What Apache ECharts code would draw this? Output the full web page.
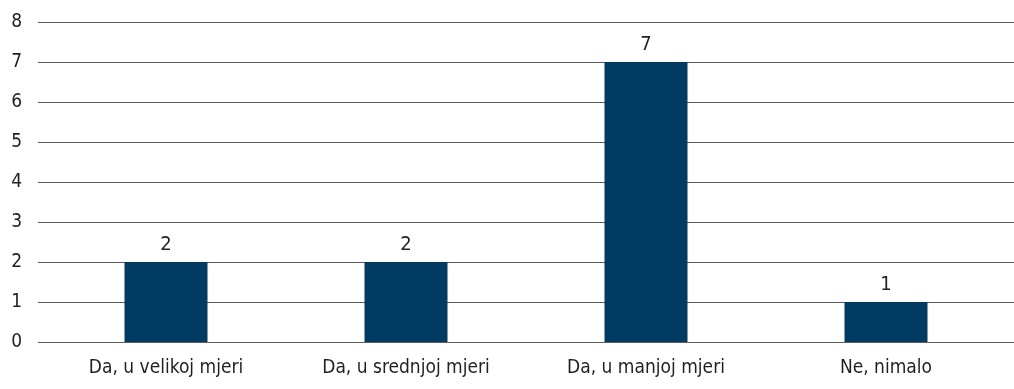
<!DOCTYPE html>
<html>
<head>
<meta charset="utf-8">
<script src="https://cdn.jsdelivr.net/npm/echarts@6/dist/echarts.min.js"></script>
<style>
  html, body { margin: 0; padding: 0; background: #fff; }
  #chart { width: 1014px; height: 389px; }
</style>
</head>
<body>
<div id="chart"></div>
<script>
// Survey answers and how many respondents chose each one
const categories = ['Da, u velikoj mjeri', 'Da, u srednjoj mjeri', 'Da, u manjoj mjeri', 'Ne, nimalo'];
const counts = [2, 2, 7, 1];
const yTicks = [0, 1, 2, 3, 4, 5, 6, 7, 8];

const FONT = '"Liberation Sans Narrow", "DejaVu Sans Condensed", sans-serif';
const TEXT = '#231f20';
const yMin = yTicks[0];
const yMax = yTicks[yTicks.length - 1];

const chart = echarts.init(document.getElementById('chart'), null, { renderer: 'canvas' });
chart.setOption({
  animation: false,
  backgroundColor: '#ffffff',
  // grid 0 carries the full-width gridlines and value labels,
  // grid 1 (same height, slightly inset) carries the bars and category labels
  grid: [
    { left: 38, right: 0, top: 22, bottom: 47, containLabel: false },
    { left: 46, right: 8, top: 22, bottom: 47, containLabel: false }
  ],
  xAxis: [
    { gridIndex: 0, type: 'category', data: categories, show: false },
    {
      gridIndex: 1,
      type: 'category',
      data: categories,
      axisLine: { show: false },
      axisTick: { show: false },
      axisLabel: { color: TEXT, fontFamily: FONT, fontSize: 19, margin: 17 }
    }
  ],
  yAxis: [
    {
      gridIndex: 0,
      type: 'value',
      min: yMin,
      max: yMax,
      interval: 1,
      axisLine: { show: false },
      axisTick: { show: false },
      axisLabel: { color: TEXT, fontFamily: FONT, fontSize: 19, margin: 16 },
      splitLine: { show: true, lineStyle: { color: '#5a5a5a', width: 1 } }
    },
    {
      gridIndex: 1,
      type: 'value',
      min: yMin,
      max: yMax,
      interval: 1,
      show: false,
      splitLine: { show: false }
    }
  ],
  series: [{
    type: 'bar',
    xAxisIndex: 1,
    yAxisIndex: 1,
    data: counts,
    barWidth: 83,
    itemStyle: { color: '#003b64' },
    label: {
      show: true,
      position: 'top',
      distance: 7,
      color: TEXT,
      fontFamily: FONT,
      fontSize: 20
    }
  }]
});
</script>
</body>
</html>
